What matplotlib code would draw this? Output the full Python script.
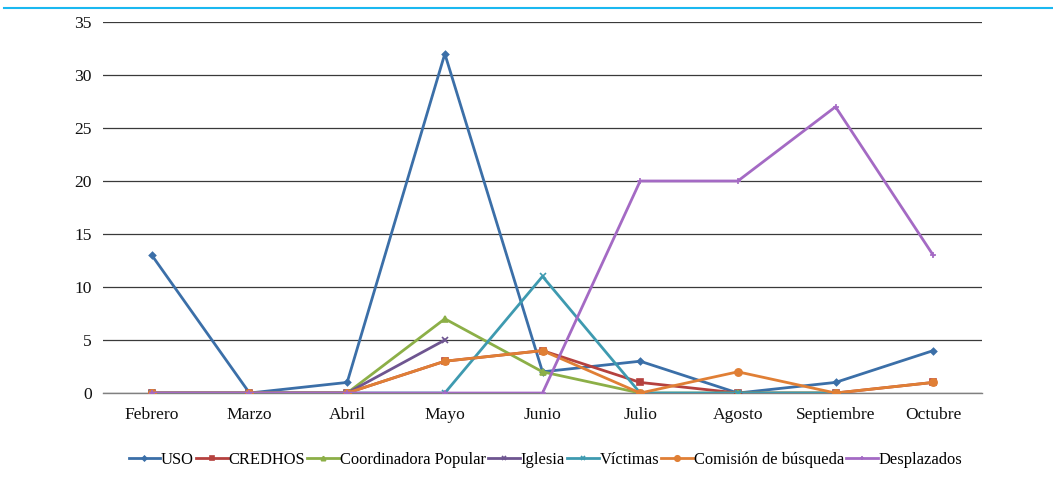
import numpy as np
import matplotlib
matplotlib.use("Agg")
import matplotlib.pyplot as plt
from matplotlib.lines import Line2D

months = ["Febrero", "Marzo", "Abril", "Mayo", "Junio", "Julio", "Agosto", "Septiembre", "Octubre"]

uso = [13, 0, 1, 32, 2, 3, 0, 1, 4]
credhos = [0, 0, 0, 3, 4, 1, 0, 0, 1]
coordinadora = [0, 0, 0, 7, 2, 0, 0, 0, np.nan]
iglesia = [0, 0, 0, 5, np.nan, np.nan, np.nan, np.nan, np.nan]
victimas = [0, 0, 0, 0, 11, 0, 0, 0, np.nan]
comision = [0, 0, 0, 3, 4, 0, 2, 0, 1]
desplazados = [0, 0, 0, 0, 0, 20, 20, 27, 13]

series = [
    ("USO", uso, "#3b6fa8", "D", 3.2),
    ("CREDHOS", credhos, "#b5413e", "s", 3.8),
    ("Coordinadora Popular", coordinadora, "#8caf47", "^", 4.2),
    ("Iglesia", iglesia, "#6e5590", "x", 4.5),
    ("Víctimas", victimas, "#3e9ab0", "x", 4.5),
    ("Comisión de búsqueda", comision, "#e07f35", "o", 5.2),
    ("Desplazados", desplazados, "#a46ac4", "+", 4.0),
]

plt.rcParams["font.family"] = ["Liberation Serif", "DejaVu Serif"]

fig = plt.figure(figsize=(10.53, 4.82), dpi=100)
ax = fig.add_axes([0.0978, 0.1846, 0.8348, 0.7698])

x = np.arange(len(months))
handles = []
for name, vals, color, marker, ms in series:
    (ln,) = ax.plot(x, vals, color=color, lw=2.0, marker=marker, ms=ms,
                    mew=1.2, mfc=color, mec=color, label=name, zorder=3)
    handles.append(ln)

ax.set_xlim(-0.5, len(months) - 0.5)
ax.set_ylim(0, 35)
ax.set_yticks(range(0, 36, 5))
ax.set_xticks(x)
ax.set_xticklabels(months)
ax.grid(axis="y", color="#3a3a3a", lw=0.9)
ax.set_axisbelow(True)
for s in ["top", "right", "left"]:
    ax.spines[s].set_visible(False)
ax.spines["bottom"].set_color("#808080")
ax.spines["bottom"].set_linewidth(1.0)
ax.tick_params(axis="both", length=0, labelsize=12.6, colors="#111111")
ax.tick_params(axis="x", pad=10)
ax.tick_params(axis="y", pad=8)

fig.legend(handles=handles, loc="center", bbox_to_anchor=(0.518, 0.046), ncol=7,
           frameon=False, fontsize=11.9, handlelength=1.9, handletextpad=0.05,
           columnspacing=0.15, markerscale=0.75)

# thin rule across the top of the figure
fig.add_artist(Line2D([0.004, 1.0], [0.983, 0.983], color="#1ab8f0", lw=1.5,
                      transform=fig.transFigure))

fig.savefig("out.png", dpi=100)
